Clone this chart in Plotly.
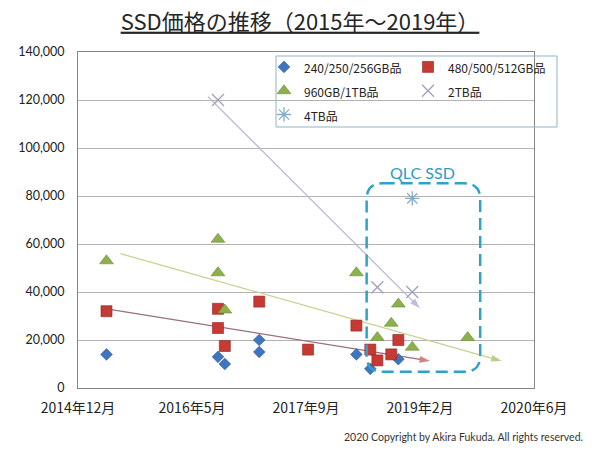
import plotly.graph_objects as go
from datetime import datetime

# ---------------- data ----------------
series_names = ["240/250/256GB品", "480/500/512GB品", "960GB/1TB品", "2TB品", "4TB品"]

dates_256 = ["2015-05-01", "2016-09-01", "2016-10-01", "2017-03-01", "2017-03-01",
             "2018-05-01", "2018-07-01", "2018-11-01"]
price_256 = [14000, 13000, 10000, 20000, 15000, 14000, 8000, 12000]

dates_512 = ["2015-05-01", "2016-09-01", "2016-09-01", "2016-10-01", "2017-03-01",
             "2017-10-01", "2018-05-01", "2018-07-01", "2018-08-01", "2018-10-01", "2018-11-01"]
price_512 = [32000, 33000, 25000, 17500, 36000, 16000, 26000, 16000, 11500, 14000, 20000]

dates_1tb = ["2015-05-01", "2016-09-01", "2016-09-01", "2016-10-01", "2018-05-01",
             "2018-08-01", "2018-10-01", "2018-11-01", "2019-01-01", "2019-09-01"]
price_1tb = [53000, 62000, 48000, 32500, 48000, 21000, 27000, 35000, 17000, 21000]

dates_2tb = ["2016-09-01", "2018-08-01", "2019-01-01"]
price_2tb = [120000, 42000, 40000]

dates_4tb = ["2019-01-01"]
price_4tb = [79000]

# trend lines (start / end as drawn in the reference)
trend_512_dates = ["2015-05-01", "2019-03-20"]
trend_512_price = [33000, 11250]
trend_1tb_dates = ["2015-07-01", "2020-01-28"]
trend_1tb_price = [56000, 11250]
trend_2tb_dates = ["2016-07-19", "2019-02-04"]
trend_2tb_price = [121400, 33200]

x_tick_vals = ["2014-12-27", "2016-05-10", "2017-09-22", "2019-02-04", "2020-06-18"]
x_tick_text = ["2014年12月", "2016年5月", "2017年9月", "2019年2月", "2020年6月"]
y_tick_vals = [0, 20000, 40000, 60000, 80000, 100000, 120000, 140000]

# QLC box bounds (data units) and label
qlc_x0, qlc_x1 = "2018-06-15", "2019-10-26"
qlc_y0, qlc_y1 = 6800, 85300
qlc_label_date, qlc_label_price = "2019-02-15", 89700

X_MIN, X_MAX = x_tick_vals[0], x_tick_vals[-1]
Y_MIN, Y_MAX = 0, 140000

JP = "Noto Sans CJK JP"
LAT = "Lato"

fig = go.Figure()


def trend(dates, prices, line_color, head_color):
    fig.add_trace(go.Scatter(
        x=dates, y=prices, mode="lines+markers",
        line=dict(color=line_color, width=1.2),
        marker=dict(symbol=["circle", "arrow"], size=[0, 11], angleref="previous",
                    color=head_color, line=dict(width=0)),
        showlegend=False, hoverinfo="skip"))


trend(trend_2tb_dates, trend_2tb_price, "#b9b4cf", "#a79fca")
trend(trend_1tb_dates, trend_1tb_price, "#c9d190", "#9bbb59")
trend(trend_512_dates, trend_512_price, "#9a6f7c", "#c0504d")


def lg(name):
    return f"<span style='font-size:12px'>{name}</span>"


fig.add_trace(go.Scatter(
    x=dates_256, y=price_256, mode="markers", name=lg(series_names[0]), legend="legend",
    marker=dict(symbol="diamond", size=9, color="#3f74c0", line=dict(color="#2b5a9b", width=0.6))))
fig.add_trace(go.Scatter(
    x=dates_512, y=price_512, mode="markers", name=lg(series_names[1]), legend="legend2",
    marker=dict(symbol="square", size=11, color="#c63a33", line=dict(color="#8e2220", width=0.6))))
fig.add_trace(go.Scatter(
    x=dates_1tb, y=price_1tb, mode="markers", name=lg(series_names[2]), legend="legend",
    marker=dict(symbol="triangle-up", size=12, color="#8cb04a", line=dict(color="#6b8a35", width=0.6))))
fig.add_trace(go.Scatter(
    x=dates_2tb, y=price_2tb, mode="markers", name=lg(series_names[3]), legend="legend2",
    marker=dict(symbol="x-thin-open", size=12, color="#a09fc2", line=dict(color="#a09fc2", width=1.3))))
fig.add_trace(go.Scatter(
    x=dates_4tb, y=price_4tb, mode="markers", name=lg(series_names[4]), legend="legend",
    marker=dict(symbol="asterisk-open", size=12, color="#86aecb", line=dict(color="#86aecb", width=1.3))))

# ---- geometry helpers: data units -> paper units ----
PLOT_L, PLOT_T, PLOT_W, PLOT_H = 78, 52, 456, 336


def xp(d):
    t0, t1 = datetime.fromisoformat(X_MIN), datetime.fromisoformat(X_MAX)
    return (datetime.fromisoformat(d) - t0) / (t1 - t0)


def yp(v):
    return (v - Y_MIN) / (Y_MAX - Y_MIN)


def px_x(px):
    return (px - PLOT_L) / PLOT_W


def px_y(py):
    return (PLOT_T + PLOT_H - py) / PLOT_H


# QLC rounded dashed box
bx0, bx1, by0, by1 = xp(qlc_x0), xp(qlc_x1), yp(qlc_y0), yp(qlc_y1)
rx, ry = 16 / PLOT_W, 16 / PLOT_H
path = (f"M {bx0+rx},{by1} L {bx1-rx},{by1} Q {bx1},{by1} {bx1},{by1-ry} "
        f"L {bx1},{by0+ry} Q {bx1},{by0} {bx1-rx},{by0} "
        f"L {bx0+rx},{by0} Q {bx0},{by0} {bx0},{by0+ry} "
        f"L {bx0},{by1-ry} Q {bx0},{by1} {bx0+rx},{by1} Z")
fig.add_shape(type="path", path=path, xref="paper", yref="paper",
              line=dict(color="#2fa3c5", width=2.5, dash="12px,6px"), layer="above")

# legend frame (transparent, like the reference)
fig.add_shape(type="rect", xref="paper", yref="paper",
              x0=px_x(276), x1=px_x(557), y0=px_y(127), y1=px_y(56),
              line=dict(color="#8fb4c6", width=1), fillcolor="rgba(0,0,0,0)", layer="above")

fig.add_annotation(x=qlc_label_date, y=qlc_label_price, xref="x", yref="y",
                   text="QLC SSD", showarrow=False,
                   font=dict(family=LAT, size=16, color="#2b9cc0"))

fig.add_annotation(x=px_x(585), y=px_y(437), xref="paper", yref="paper",
                   xanchor="right", yanchor="middle",
                   text="2020 Copyright by Akira Fukuda. All rights reserved.", showarrow=False,
                   font=dict(family=LAT, size=10.5, color="#333333"))

legend_common = dict(orientation="v", xanchor="left", yanchor="top",
                     bgcolor="rgba(0,0,0,0)", borderwidth=0, traceorder="normal",
                     font=dict(family=JP, size=16, color="#222222"))

fig.update_layout(
    width=600, height=450,
    margin=dict(l=PLOT_L, r=600 - PLOT_L - PLOT_W, t=PLOT_T, b=450 - PLOT_T - PLOT_H,
                autoexpand=False),
    paper_bgcolor="white", plot_bgcolor="white",
    title=dict(text="<u>SSD価格の推移（2015年～2019年）</u>", x=0.5, xref="container",
               y=1 - 22 / 450, yref="container", xanchor="center", yanchor="middle",
               font=dict(family=JP, size=22, color="#262626")),
    legend=dict(x=px_x(264), y=px_y(50), **legend_common),
    legend2=dict(x=px_x(408), y=px_y(50), **legend_common),
    showlegend=True,
)

fig.update_xaxes(type="date", range=[X_MIN, X_MAX], tickmode="array",
                 tickvals=x_tick_vals, ticktext=x_tick_text, showgrid=False,
                 showline=True, linecolor="#868686", linewidth=1, mirror=True,
                 ticks="", ticklabelstandoff=7,
                 tickfont=dict(family=JP, size=14, color="#222222"), zeroline=False)
fig.update_yaxes(range=[Y_MIN, Y_MAX], tickmode="array", tickvals=y_tick_vals,
                 tickformat=",", showgrid=True, gridcolor="#b3b3b3", gridwidth=1,
                 showline=True, linecolor="#868686", linewidth=1, mirror=True,
                 ticks="", ticklabelstandoff=10, zeroline=False,
                 tickfont=dict(family=LAT, size=12.5, color="#222222"))

# remove the browser's default 8px page margin so the figure sits at the window origin
fig.write_html("out.html", config={"displayModeBar": False},
               post_script="document.body.style.margin='0';document.body.style.overflow='hidden';")
